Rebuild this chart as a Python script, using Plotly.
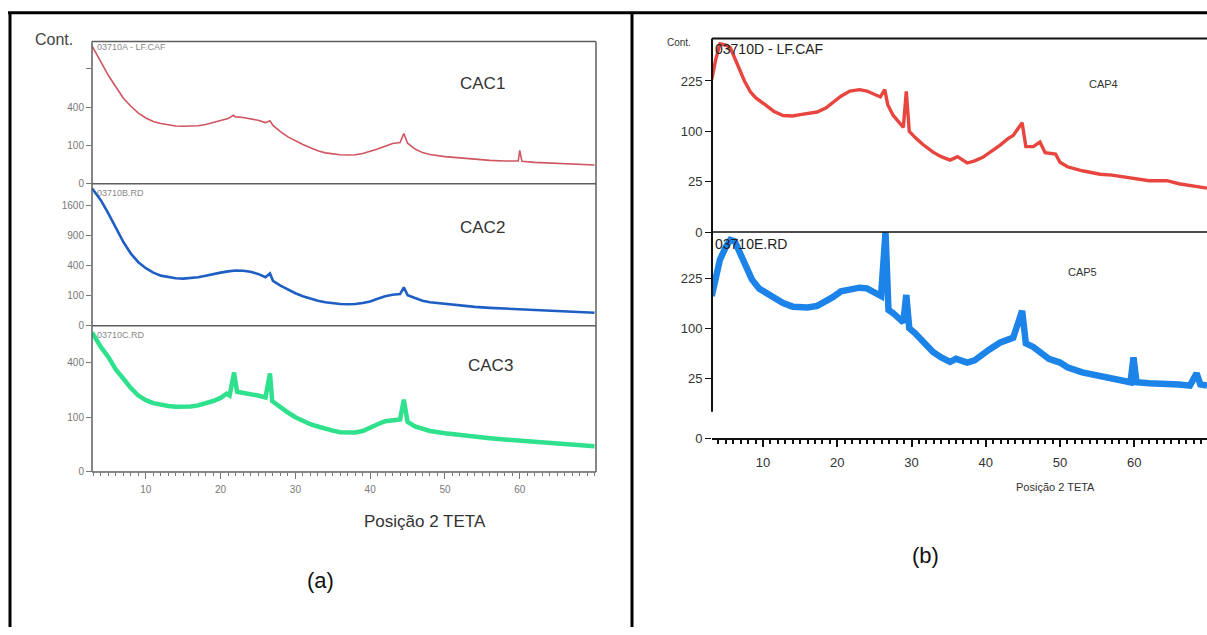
import numpy as np
import plotly.graph_objects as go

W, H = 1207, 635

# ---------------- data: 2-theta positions and counts ----------------
tt_cac1 = [2.8, 3.5, 4, 5, 6, 7, 8, 9, 10, 11, 12, 13, 14, 15, 16, 17, 18, 19, 20, 21, 21.7, 22,
           23, 24, 25, 26, 26.6, 27, 28, 29, 30, 31, 32, 33, 34, 35, 36, 37, 38, 39, 40, 41, 42,
           43, 44, 44.5, 45, 46, 47, 48, 50, 52, 54, 56, 58, 59.8, 60, 60.3, 62, 64, 66, 68, 70]
cnt_cac1 = [1300, 1120, 1000, 800, 640, 500, 410, 340, 295, 265, 248, 236, 228, 225, 225, 230,
            240, 255, 270, 290, 320, 305, 300, 290, 275, 255, 270, 232, 185, 150, 125, 105, 88,
            74, 65, 60, 57, 56, 57, 62, 70, 82, 96, 110, 116, 172, 112, 82, 66, 58, 50, 45, 40,
            37, 35, 35, 76, 34, 31, 29, 27, 25, 24]

tt_cac2 = [2.8, 4, 5, 6, 7, 8, 9, 10, 11, 12, 13, 14, 15, 16, 17, 18, 19, 20, 21, 22, 23, 24, 25,
           26, 26.6, 27, 28, 29, 30, 31, 32, 33, 34, 35, 36, 37, 38, 39, 40, 41, 42, 43, 44, 44.5,
           45, 46, 47, 48, 50, 52, 54, 56, 58, 60, 62, 64, 66, 68, 70]
cnt_cac2 = [2100, 1750, 1400, 1050, 780, 580, 450, 370, 315, 280, 262, 252, 248, 252, 262, 280,
            300, 315, 330, 340, 338, 325, 300, 262, 305, 225, 180, 145, 118, 98, 82, 70, 62, 56,
            53, 52, 53, 58, 66, 82, 98, 108, 112, 165, 105, 86, 70, 62, 53, 46, 40, 36, 33, 30,
            27, 25, 23, 21, 19]

tt_cac3 = [2.8, 4, 5, 6, 7, 8, 9, 10, 11, 12, 13, 14, 15, 16, 17, 18, 19, 20, 20.8, 21.2, 21.8,
           22.2, 23, 24, 25, 26, 26.6, 26.9, 28, 29, 30, 31, 32, 33, 34, 35, 36, 37, 38, 39, 40,
           41, 42, 43, 44, 44.5, 45, 46, 47, 48, 50, 52, 54, 56, 58, 60, 62, 64, 66, 68, 70]
cnt_cac3 = [650, 520, 440, 350, 290, 235, 195, 172, 158, 150, 145, 142, 141, 143, 148, 156, 168,
            183, 205, 195, 330, 215, 210, 203, 195, 185, 325, 168, 138, 118, 100, 86, 76, 69, 62,
            57, 53, 52, 52, 56, 64, 76, 86, 90, 92, 175, 84, 69, 62, 56, 50, 45, 41, 38, 35, 33,
            31, 29, 27, 24, 22]

tt_cap4 = [3.1, 3.6, 4.2, 5.0, 5.6, 6.3, 6.9, 7.5, 8.3, 9.0, 10.5, 11.5, 12.7, 14, 15, 16, 17.3,
           18.5, 19.4, 20.5, 21.7, 23, 24, 25, 25.8, 26.4, 26.8, 27.5, 28.3, 28.9, 29.3, 29.7,
           30.5, 31.5, 32.9, 34, 35.2, 36.2, 37.5, 38.5, 39.6, 40.7, 41.9, 43, 43.7, 44.9, 45.4,
           46.4, 47.3, 48, 49.4, 50, 51, 53, 55.4, 57, 60, 62, 64.4, 66, 69.8]
cnt_cap4 = [230, 290, 350, 345, 335, 290, 252, 225, 194, 178, 157, 143, 134, 133, 136, 138, 142,
            152, 165, 182, 196, 200, 196, 188, 180, 200, 160, 135, 120, 108, 195, 100, 88, 76, 63,
            56, 51, 56, 47, 50, 55, 63, 74, 86, 92, 118, 72, 72, 80, 62, 60, 48, 42, 37, 33, 32,
            28, 26, 26, 23, 19]

tt_cap5 = [3.1, 3.6, 4.2, 5.0, 5.6, 6.2, 6.9, 7.8, 8.5, 9.5, 10.5, 11.5, 12.7, 14, 15, 16, 17.3,
           18.5, 19.4, 20.5, 21.7, 23, 24, 25.2, 25.9, 26.5, 26.9, 27.5, 28.2, 28.9, 29.3, 29.7,
           30.5, 31.5, 32.9, 34, 35.2, 36, 37.5, 38.5, 39.6, 40.5, 41.9, 43, 43.7, 44.9, 45.4,
           46.4, 47.5, 48.5, 50, 51, 53, 55.4, 57.5, 59.5, 59.9, 60.3, 62, 64.4, 66, 67.5, 68.4,
           68.9, 69.8]
cnt_cap5 = [175, 230, 285, 330, 356, 350, 310, 250, 222, 195, 183, 168, 157, 148, 145, 146, 150,
            160, 172, 188, 194, 198, 196, 185, 175, 385, 140, 133, 120, 112, 178, 100, 90, 75, 58,
            50, 44, 48, 43, 46, 53, 62, 73, 80, 82, 138, 72, 66, 55, 48, 43, 37, 31, 27, 23, 21,
            50, 21, 20, 20, 19, 18, 30, 19, 18]

# square-root intensity scale: tick counts
ticks_top_a = [0, 100, 400, 900]
ticks_mid_a = [0, 100, 400, 900, 1600]
ticks_bot_a = [0, 100, 400]
ticks_b = [0, 25, 100, 225]
xticks = [10, 20, 30, 40, 50, 60]


def px(x, y):
    return x / W, 1 - y / H


def sq(v):
    return np.sqrt(np.asarray(v, dtype=float))


fig = go.Figure()

# ---------------- panel (a) ----------------
fig.add_trace(go.Scatter(x=tt_cac1, y=sq(cnt_cac1), xaxis="x", yaxis="y", mode="lines",
                         line=dict(color="#cf5560", width=1.6), showlegend=False))
fig.add_trace(go.Scatter(x=tt_cac2, y=sq(cnt_cac2), xaxis="x", yaxis="y2", mode="lines",
                         line=dict(color="#1f5fc4", width=2.6), showlegend=False))
fig.add_trace(go.Scatter(x=tt_cac3, y=sq(cnt_cac3), xaxis="x", yaxis="y3", mode="lines",
                         line=dict(color="#2fe08c", width=4.5), showlegend=False))

# ---------------- panel (b) ----------------
fig.add_trace(go.Scatter(x=tt_cap4, y=sq(cnt_cap4), xaxis="x2", yaxis="y4", mode="lines",
                         line=dict(color="#e8453f", width=3.4), showlegend=False))
fig.add_trace(go.Scatter(x=tt_cap5, y=sq(cnt_cap5), xaxis="x2", yaxis="y5", mode="lines",
                         line=dict(color="#1c84e8", width=6.5), showlegend=False))

gray = "#777777"
sans = "Liberation Sans, Arial, sans-serif"
narrow = "Liberation Sans Narrow, Arial Narrow, Liberation Sans, sans-serif"
fa = dict(family=sans, size=10, color=gray)
fb = dict(family=narrow, size=13, color="#333333")

xa0, xa1 = 92 / W, 596 / W
xb0, xb1 = 712 / W, 1.0


def dom(top, bot):
    return [1 - bot / H, 1 - top / H]


def yax_a(top, bot, ticks, labels, rng):
    return dict(domain=dom(top, bot), anchor="x", range=rng, showgrid=False, zeroline=False,
                showline=False, ticks="outside", ticklen=5, tickcolor=gray, tickwidth=1,
                tickvals=list(sq(ticks)), ticktext=labels, tickfont=fa)


fig.update_layout(
    width=W, height=H, margin=dict(l=0, r=0, t=0, b=0),
    paper_bgcolor="white", plot_bgcolor="white",
    xaxis=dict(domain=[xa0, xa1], anchor="y3", range=[2.8, 70.2], showgrid=False, zeroline=False,
               showline=False, ticks="outside", ticklen=6, tickcolor=gray, tickvals=xticks,
               tickfont=fa, ticklabelstandoff=2,
               minor=dict(dtick=1, ticks="outside", ticklen=3, tickcolor=gray)),
    yaxis=yax_a(42, 186, ticks_top_a, ["0", "100", "400", ""], [0, 37.2]),
    yaxis2=yax_a(186, 330, ticks_mid_a, [str(t) for t in ticks_mid_a], [0, 47.4]),
    yaxis3=yax_a(330, 478, ticks_bot_a, [str(t) for t in ticks_bot_a], [0, 26.7]),
    xaxis2=dict(domain=[xb0, xb1], anchor="y5", range=[3.13, 69.8], showgrid=False,
                zeroline=False, showline=True, linecolor="#111111", linewidth=2,
                ticks="outside", ticklen=7, tickcolor="#111111", tickwidth=1.5,
                tickvals=xticks, tickfont=fb, ticklabelstandoff=4,
                minor=dict(dtick=1, ticks="outside", ticklen=4, tickcolor="#111111")),
    yaxis4=dict(domain=dom(39, 235), anchor="x2", range=[0, 19.22], showgrid=False,
                zeroline=False, showline=False, ticks="outside", ticklen=6,
                tickcolor="#111111", tickvals=list(sq(ticks_b)),
                ticktext=[str(t) for t in ticks_b], tickfont=fb),
    yaxis5=dict(domain=dom(235, 444), anchor="x2", range=[-1.05, 19.65], showgrid=False,
                zeroline=False, showline=False, ticks="outside", ticklen=6,
                tickcolor="#111111", tickvals=[-1.04] + list(sq(ticks_b[1:])),
                ticktext=[str(t) for t in ticks_b], tickfont=fb),
)

shapes = []


def seg(x0, y0, x1, y1, color, width):
    a, b = px(x0, y0)
    c, d = px(x1, y1)
    shapes.append(dict(type="line", xref="paper", yref="paper", x0=a, y0=b, x1=c, y1=d,
                       line=dict(color=color, width=width)))


# table frame
seg(8, 13, 1207, 13, "black", 3)
seg(10, 13, 10, H, "black", 3)
seg(632, 13, 632, H, "black", 3)

# panel (a) frame and separators
box = "#5e5e5e"
seg(92, 42, 596, 42, box, 1.5)
seg(92, 478, 596, 478, box, 1.5)
seg(92, 42, 92, 478, box, 1.5)
seg(596, 42, 596, 478, box, 1.5)
seg(92, 186, 596, 186, box, 1.5)
seg(92, 330, 596, 330, box, 1.5)

# panel (b) frame and separator
seg(712, 39, 1207, 39, "#111111", 2)
seg(712, 235, 1207, 235, "#111111", 1.5)
seg(712, 39, 712, 417, "#111111", 2)

fig.update_layout(shapes=shapes)


def txt(s, x, y, size, color, family, anchor="center"):
    a, b = px(x, y)
    fig.add_annotation(text=s, x=a, y=b, xref="paper", yref="paper", showarrow=False,
                       xanchor=anchor, yanchor="middle",
                       font=dict(size=size, color=color, family=family))


# panel (a) texts
txt("Cont.", 33, 40, 16, "#444444", sans, "left")
txt("03710A - LF.CAF", 95, 48, 9, "#888888", sans, "left")
txt("03710B.RD", 95, 195, 9, "#888888", sans, "left")
txt("03710C.RD", 95, 339, 9, "#888888", sans, "left")
txt("CAC1", 483, 85, 17, "#333333", sans)
txt("CAC2", 483, 230, 17, "#333333", sans)
txt("CAC3", 490, 370, 17, "#333333", sans)
txt("Posição 2 TETA", 425, 528, 17, "#333333", sans)
txt("(a)", 320, 588, 22, "#111111", sans)

# panel (b) texts
txt("Cont.", 665, 43, 10, "#333333", narrow, "left")
txt("03710D - LF.CAF", 713, 50, 14, "#222222", narrow, "left")
txt("03710E.RD", 713, 247, 14, "#222222", narrow, "left")
txt("CAP4", 1103, 85, 11, "#333333", narrow)
txt("CAP5", 1082, 275, 11, "#333333", narrow)
txt("Posição 2 TETA", 1055, 493, 11, "#333333", narrow)
txt("(b)", 925, 563, 22, "#111111", sans)

fig.write_html("out.html")
